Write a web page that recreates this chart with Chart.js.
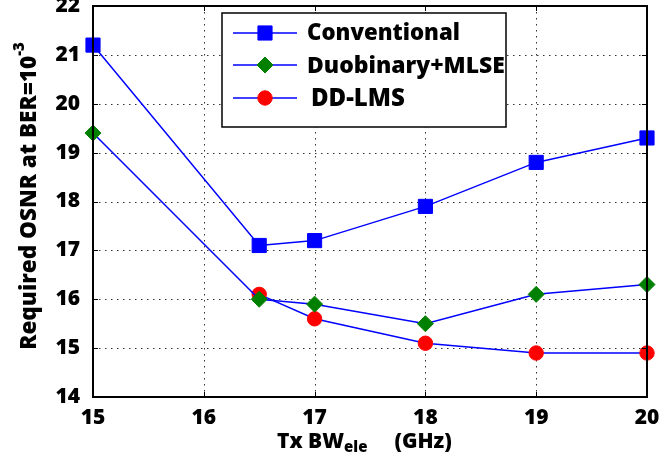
<!DOCTYPE html>
<html>
<head>
<meta charset="utf-8">
<script src="https://cdn.jsdelivr.net/npm/chart.js@4"></script>
<style>
  html, body { margin: 0; padding: 0; background: #fff; }
  #wrap { width: 667px; height: 466px; }
</style>
</head>
<body>
<div id="wrap"><canvas id="osnrChart" width="667" height="466"></canvas></div>
<script>
// values
const bandwidth = [15, 16.5, 17, 18, 19, 20];
const conventional = [21.2, 17.1, 17.2, 17.9, 18.8, 19.3];
const duobinaryMlse = [19.4, 16.0, 15.9, 15.5, 16.1, 16.3];
const ddLms = [null, 16.1, 15.6, 15.1, 14.9, 14.9];
const xTicks = [15, 16, 17, 18, 19, 20];
const yTicks = [14, 15, 16, 17, 18, 19, 20, 21, 22];

const FONT = "'Open Sans', 'Noto Sans', sans-serif";
const W = "800";

function toPoints(values) {
  return bandwidth.map((x, i) => ({ x: x, y: values[i] }));
}

// dotted grid drawn under the lines
const dottedGrid = {
  id: "dottedGrid",
  beforeDatasetsDraw(chart) {
    const ctx = chart.ctx;
    const a = chart.chartArea;
    const xs = chart.scales.x, ys = chart.scales.y;
    ctx.save();
    ctx.strokeStyle = "#333";
    ctx.lineWidth = 1;
    ctx.setLineDash([1.5, 4.5]);
    xTicks.forEach(v => {
      const px = Math.round(xs.getPixelForValue(v)) + 0.5;
      ctx.beginPath(); ctx.moveTo(px, a.top); ctx.lineTo(px, a.bottom); ctx.stroke();
    });
    yTicks.forEach(v => {
      const py = Math.round(ys.getPixelForValue(v)) + 0.5;
      ctx.beginPath(); ctx.moveTo(a.left, py); ctx.lineTo(a.right, py); ctx.stroke();
    });
    ctx.restore();
  }
};

// frame, legend and axis titles (titles need sub/superscripts)
const extras = {
  id: "extras",
  afterDraw(chart) {
    const ctx = chart.ctx;
    const a = chart.chartArea;
    ctx.save();

    // frame
    ctx.strokeStyle = "#000";
    ctx.lineWidth = 2;
    ctx.strokeRect(a.left, a.top, a.right - a.left, a.bottom - a.top);

    // small inward ticks on all sides
    ctx.lineWidth = 1;
    const xs = chart.scales.x, ys = chart.scales.y;
    xTicks.forEach(v => {
      const px = Math.round(xs.getPixelForValue(v)) + 0.5;
      ctx.beginPath(); ctx.moveTo(px, a.top); ctx.lineTo(px, a.top + 5); ctx.stroke();
      ctx.beginPath(); ctx.moveTo(px, a.bottom); ctx.lineTo(px, a.bottom - 5); ctx.stroke();
    });
    yTicks.forEach(v => {
      const py = Math.round(ys.getPixelForValue(v)) + 0.5;
      ctx.beginPath(); ctx.moveTo(a.left, py); ctx.lineTo(a.left + 5, py); ctx.stroke();
      ctx.beginPath(); ctx.moveTo(a.right, py); ctx.lineTo(a.right - 5, py); ctx.stroke();
    });

    // legend box
    const lx = 222, ly = 13, lw = 284, lh = 114;
    ctx.fillStyle = "#fff";
    ctx.fillRect(lx, ly, lw, lh);
    ctx.strokeStyle = "#000";
    ctx.lineWidth = 1.5;
    ctx.strokeRect(lx, ly, lw, lh);
    const rows = [33, 65, 98];
    chart.data.datasets.forEach((ds, i) => {
      const y = rows[i];
      ctx.strokeStyle = ds.borderColor;
      ctx.lineWidth = 1.5;
      ctx.beginPath(); ctx.moveTo(233, y); ctx.lineTo(297, y); ctx.stroke();
      ctx.fillStyle = ds.pointBackgroundColor;
      ctx.strokeStyle = ds.pointBorderColor;
      ctx.lineWidth = 1;
      Chart.helpers.drawPoint(ctx, {
        pointStyle: ds.pointStyle,
        radius: ds.pointRadius,
        borderWidth: 1
      }, 265, y);
      ctx.fillStyle = "#000";
      ctx.font = W + " 22px " + FONT;
      ctx.textBaseline = "middle";
      ctx.textAlign = "left";
      const label = ds.label;
      const target = [153, 198, 107][i];
      const mw = ctx.measureText(label).width;
      const size = Math.min(24, 22 * target / mw);
      ctx.font = W + " " + size.toFixed(1) + "px " + FONT;
      ctx.fillText(label, i === 2 ? 311 : 307, y + 1);
    });

    // x title: Tx BW_ele   (GHz)
    ctx.fillStyle = "#000";
    ctx.textBaseline = "alphabetic";
    ctx.textAlign = "left";
    let x = 277;
    const base = 448;
    ctx.font = W + " 21px " + FONT;
    ctx.fillText("Tx BW", x, base);
    x += ctx.measureText("Tx BW").width;
    ctx.font = W + " 15px " + FONT;
    ctx.fillText("ele", x, base + 4);
    x += ctx.measureText("ele").width;
    ctx.font = W + " 21px " + FONT;
    ctx.fillText("(GHz)", x + 27, base);

    // y title: Required OSNR at BER=10^-3
    ctx.translate(36, 196);
    ctx.rotate(-Math.PI / 2);
    const main = "Required OSNR at BER=10";
    ctx.font = W + " 15px " + FONT;
    const supW = ctx.measureText("-3").width;
    ctx.font = W + " 22.5px " + FONT;
    const mainW = ctx.measureText(main).width;
    const sx = -(mainW + supW) / 2;
    ctx.fillText(main, sx, 0);
    ctx.font = W + " 15px " + FONT;
    ctx.fillText("-3", sx + mainW, -12);
    ctx.restore();
  }
};

const lineBlue = "#0000ff";

new Chart(document.getElementById("osnrChart"), {
  type: "line",
  data: {
    datasets: [
      {
        label: "Conventional",
        data: toPoints(conventional),
        borderColor: lineBlue,
        borderWidth: 1.5,
        pointStyle: "rect",
        pointRadius: 10,
        pointBackgroundColor: "#0000ff",
        pointBorderColor: "#0000ff",
        pointBorderWidth: 1
      },
      {
        label: "Duobinary+MLSE",
        data: toPoints(duobinaryMlse),
        borderColor: lineBlue,
        borderWidth: 1.5,
        pointStyle: "rectRot",
        pointRadius: 8,
        pointBackgroundColor: "#008000",
        pointBorderColor: "#008000",
        pointBorderWidth: 1
      },
      {
        label: "DD-LMS",
        data: toPoints(ddLms),
        borderColor: lineBlue,
        borderWidth: 1.5,
        pointStyle: "circle",
        pointRadius: 7.2,
        pointBackgroundColor: "#ff0000",
        pointBorderColor: "#ff0000",
        pointBorderWidth: 1
      }
    ]
  },
  options: {
    responsive: false,
    animation: false,
    clip: false,
    layout: { autoPadding: false, padding: { top: 6, right: 20, left: 0, bottom: 0 } },
    plugins: {
      legend: { display: false },
      tooltip: { enabled: false }
    },
    scales: {
      x: {
        type: "linear",
        min: 15,
        max: 20,
        afterBuildTicks: (s) => { s.ticks = xTicks.map(v => ({ value: v })); },
        afterFit: (s) => { s.height = 69; s.paddingLeft = 0; s.paddingRight = 0; },
        grid: { display: false },
        border: { display: false },
        ticks: {
          color: "#000",
          padding: 0,
          font: { family: FONT, size: 21, weight: W },
          maxRotation: 0
        }
      },
      y: {
        min: 14,
        max: 22,
        afterBuildTicks: (s) => { s.ticks = yTicks.map(v => ({ value: v })); },
        afterFit: (s) => { s.width = 93; s.paddingTop = 0; s.paddingBottom = 0; },
        grid: { display: false },
        border: { display: false },
        ticks: {
          color: "#000",
          padding: 5,
          font: { family: FONT, size: 21, weight: W }
        }
      }
    }
  },
  plugins: [dottedGrid, extras]
});
</script>
</body>
</html>
